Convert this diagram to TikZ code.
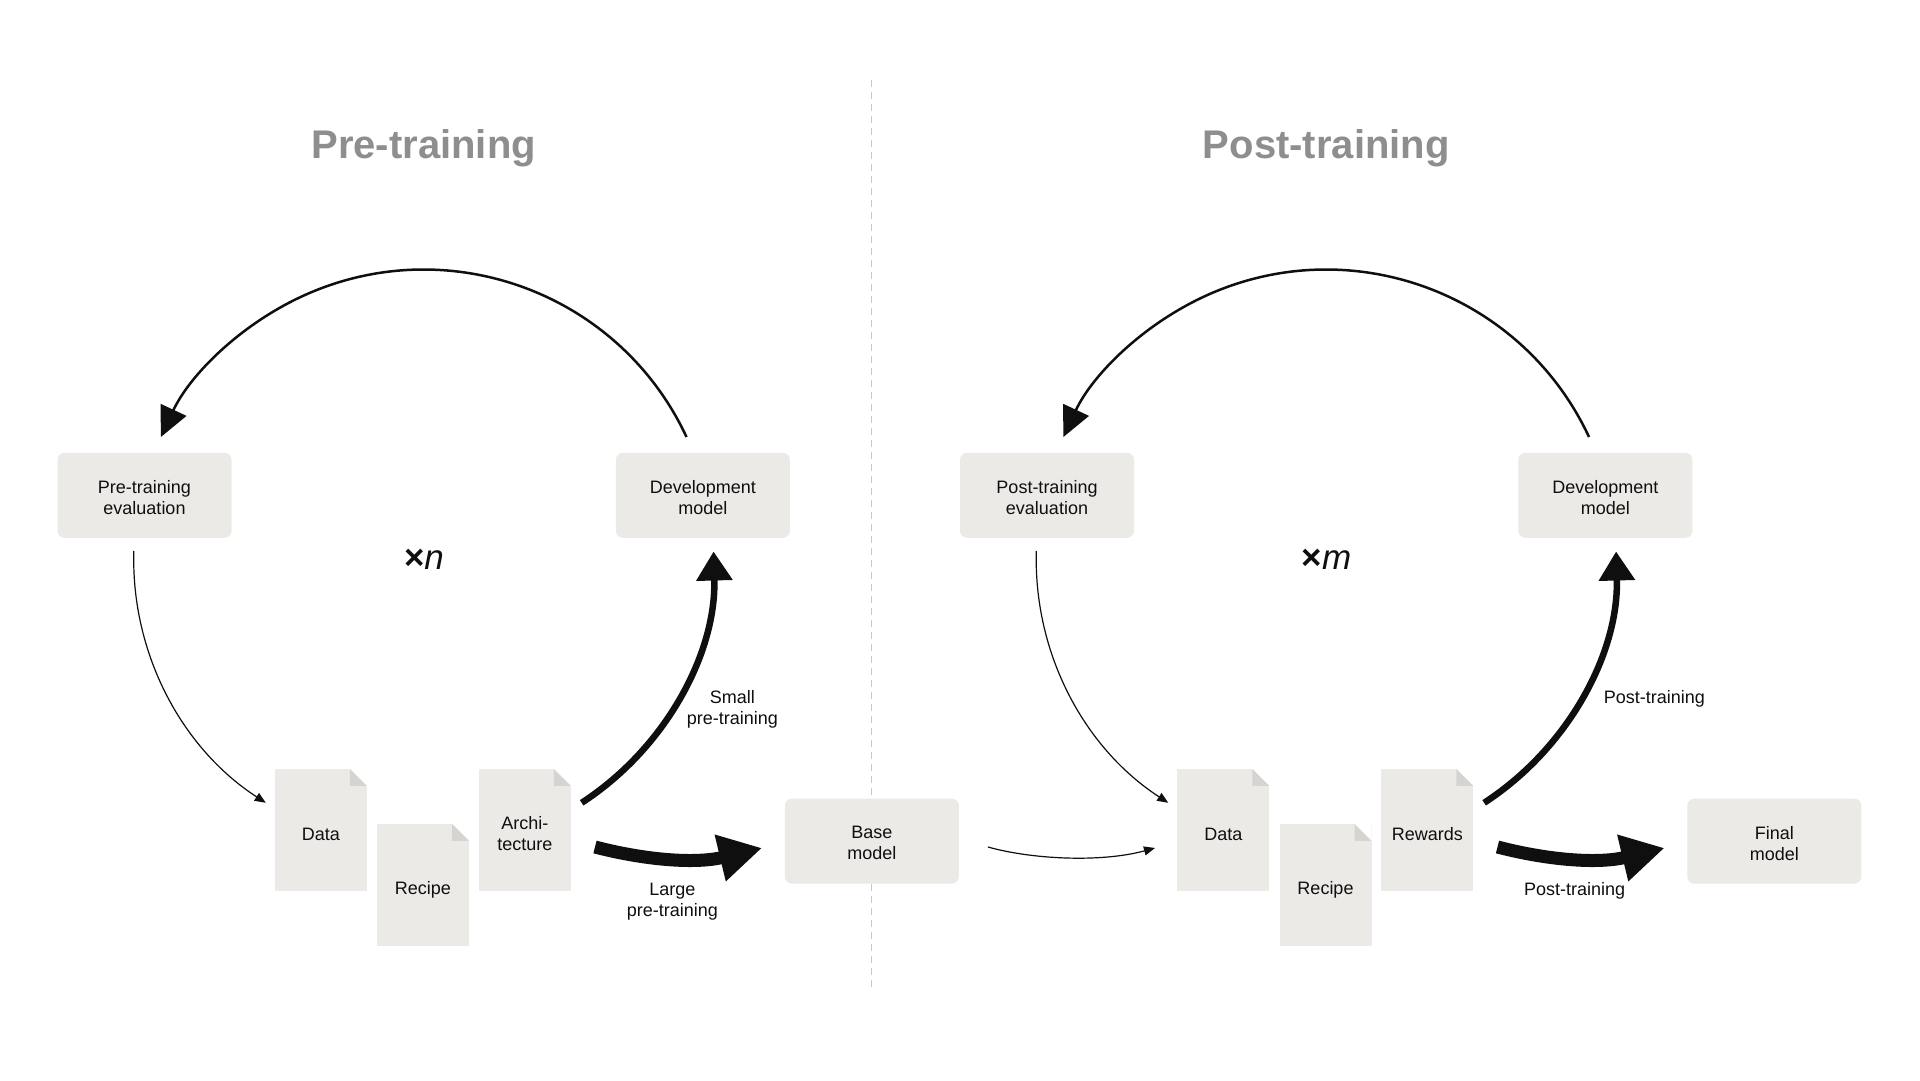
\documentclass[tikz,border=0pt]{standalone}
\usepackage{fontspec}
\setmainfont{Liberation Sans}
\usetikzlibrary{arrows.meta}
\definecolor{boxc}{RGB}{236,234,231}
\definecolor{foldc}{RGB}{214,212,209}
\definecolor{titlec}{RGB}{142,142,144}
\definecolor{dashc}{RGB}{200,200,200}
\definecolor{ink}{RGB}{15,15,15}
\newcommand\mylblfont{\fontsize{18}{21}\selectfont}
\begin{document}
\begin{tikzpicture}[x=1pt,y=1pt,
  box/.style={fill=boxc, rounded corners=7pt, minimum width=174pt, minimum height=85pt,
    inner sep=0pt},
  doc/.style={fill=boxc, minimum width=92pt, minimum height=122.5pt, inner sep=0pt,
    path picture={
      \fill[white] ([xshift=-17pt]path picture bounding box.north east) -- (path picture bounding box.north east) -- ([yshift=-17pt]path picture bounding box.north east) -- cycle;
      \fill[foldc] ([xshift=-17pt]path picture bounding box.north east) -- ([xshift=-17pt,yshift=-17pt]path picture bounding box.north east) -- ([yshift=-17pt]path picture bounding box.north east) -- cycle;
    }},
  intext/.style={align=center, font=\mylblfont, inner sep=0pt, text=ink},
  lbl/.style={align=center, font=\mylblfont, inner sep=0pt, anchor=north, text=ink},
  ttl/.style={font=\fontsize{40}{48}\selectfont\bfseries, text=titlec, anchor=base, inner sep=0pt},
  times/.style={font=\fontsize{35}{40}\selectfont, text=ink, anchor=base, inner sep=0pt},
  toparc/.style={draw=ink, line width=2.5pt, -{Triangle[length=30pt,width=28pt]}},
  thinarc/.style={draw=ink, line width=1.2pt, -{Triangle[length=11pt,width=9pt]}},
  boldarc/.style={draw=ink, line width=6.5pt, -{Triangle[length=29pt,width=35pt]}},
  bigarrow/.style={draw=ink, line width=13pt, -{Triangle[length=43pt,width=45pt]}}
]
\fill[white] (0,0) rectangle (1920,1081);
\useasboundingbox (0,0) rectangle (1920,1081);

% divider
\coordinate (divtop) at (871.8,1001);
\coordinate (divbot) at (871.8,93);
\draw[dashc, line width=1.3pt, dash pattern=on 7pt off 5pt] (divtop) -- (divbot);

% titles
\node[ttl] (t1) at (423.7,922.5) {Pre-training};
\node[ttl] (t2) at (1326.2,922) {Post-training};

% ===== Pre-training =====
\coordinate (cL) at (423.7,521.4);
\node[times] (xn) at (424,511) {\bfseries ×\mdseries\itshape n};
\node[box] (pe) at (144.5,585.7) {};
\node[box] (dm1) at (702.9,585.7) {};
\node[doc] (data1) at (320.8,250.8) {};
\node[doc] (rec1) at (423,195.8) {};
\node[doc] (arch) at (524.8,250.8) {};
\node[box] (base) at (871.8,239.8) {};
\node[intext] (pet) at ([yshift=-2pt]pe.center) {Pre-training\\evaluation};
\node[intext] (dm1t) at ([yshift=-2pt]dm1.center) {Development\\model};
\node[intext] (data1t) at ([yshift=-4pt]data1.center) {Data};
\node[intext] (rec1t) at ([yshift=-5pt]rec1.center) {Recipe};
\node[intext] (archt) at ([yshift=-3pt]arch.center) {Archi-\\tecture};
\node[intext] (baset) at ([yshift=-2pt]base.center) {Base\\model};

\draw[toparc] ([shift={(25:290pt)}]cL) arc[start angle=25, end angle=155, radius=290pt];
\draw[thinarc] ([shift={(178.3:290pt)}]cL) arc[start angle=178.3, end angle=237, radius=290pt];
\draw[boldarc] ([shift={(-57:290pt)}]cL) arc[start angle=-57, end angle=1.6, radius=290pt];

\coordinate (lgS) at (595,234);
\coordinate (lgE) at (762,233);
\draw[bigarrow] (lgS) .. controls (645,221) and (695,217) .. (lgE);

\node[lbl] (smallL) at (732.3,391) {Small\\pre-training};
\node[lbl] (largeL) at (672.3,198.5) {Large\\pre-training};

% connector base -> post-training data
\coordinate (tnS) at (988,234);
\coordinate (tnE) at (1155,233);
\draw[thinarc] (tnS) .. controls (1030,222) and (1100,218) .. (tnE);

% ===== Post-training =====
\coordinate (cR) at (1326.2,521.4);
\node[times] (xm) at (1326.5,511) {\bfseries ×\mdseries\itshape m};
\node[box] (poe) at (1047,585.7) {};
\node[box] (dm2) at (1605.3,585.7) {};
\node[doc] (data2) at (1223.3,250.8) {};
\node[doc] (rec2) at (1325.5,195.8) {};
\node[doc] (rew) at (1427.3,250.8) {};
\node[box] (final) at (1774.3,239.8) {};
\node[intext] (poet) at ([yshift=-2pt]poe.center) {Post-training\\evaluation};
\node[intext] (dm2t) at ([yshift=-2pt]dm2.center) {Development\\model};
\node[intext] (data2t) at ([yshift=-4pt]data2.center) {Data};
\node[intext] (rec2t) at ([yshift=-5pt]rec2.center) {Recipe};
\node[intext] (rewt) at ([yshift=-4pt]rew.center) {Rewards};
\node[intext] (finalt) at ([yshift=-2pt]final.center) {Final\\model};

\draw[toparc] ([shift={(25:290pt)}]cR) arc[start angle=25, end angle=155, radius=290pt];
\draw[thinarc] ([shift={(178.3:290pt)}]cR) arc[start angle=178.3, end angle=237, radius=290pt];
\draw[boldarc] ([shift={(-57:290pt)}]cR) arc[start angle=-57, end angle=1.6, radius=290pt];

\coordinate (ptS) at (1497.5,234);
\coordinate (ptE) at (1664.5,233);
\draw[bigarrow] (ptS) .. controls (1547.5,221) and (1597.5,217) .. (ptE);

\node[lbl] (postU) at (1654.3,391) {Post-training};
\node[lbl] (postL) at (1574.7,198.5) {Post-training};
\end{tikzpicture}
\end{document}
